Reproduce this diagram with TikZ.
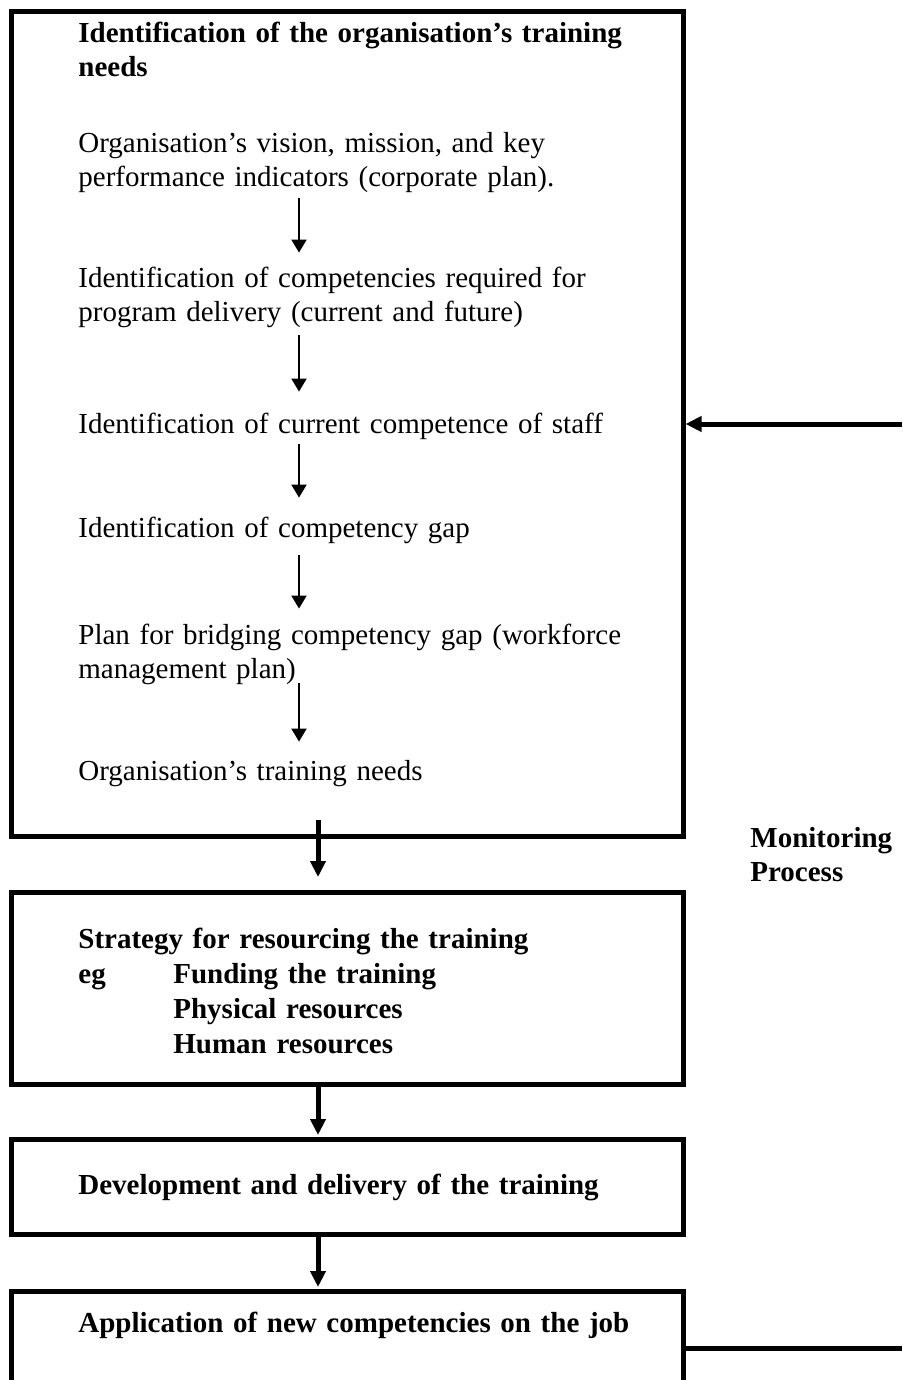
\documentclass[tikz,border=0pt]{standalone}
\usepackage{fontspec}
\setmainfont{Liberation Serif}
\usetikzlibrary{arrows.meta,calc}
\begin{document}
\begin{tikzpicture}[x=0.5pt,y=-0.5pt,
  box/.style={draw, line width=2.5pt, outer sep=0pt, inner sep=0pt, anchor=north west, minimum width=336pt},
  txt/.style={anchor=base west, inner sep=0pt, align=left, text width=320pt, font=\fontsize{14.5pt}{17pt}\selectfont},
  btxt/.style={anchor=base west, inner sep=0pt, align=left, text width=320pt, font=\fontsize{14.5pt}{17pt}\selectfont\bfseries},
  flow/.style={line width=1pt, -{Triangle[length=6.5pt,width=7.5pt]}},
  bigflow/.style={line width=2.5pt, -{Triangle[length=8pt,width=7.5pt]}},
]
\useasboundingbox[fill=white] (0,0) rectangle (902,1380);
\clip (0,0) rectangle (902,1380);

% boxes
\node[box, minimum height=412pt] (b1) at (11,12) {};
\node[box, minimum height=96pt] (b2) at (11,892) {};
\node[box, minimum height=47.5pt] (b3) at (11,1139) {};
\node[box, minimum height=70pt] (b4) at (11,1291) {};

% box 1 texts
\node[btxt] (h1) at (78,43) {Identification of the organisation’s training\\needs};
\node[txt] (t1) at (78,153) {\strut Organisation’s vision, mission, and key\\performance indicators (corporate plan).\strut};
\node[txt] (t2) at (78,287) {\strut Identification of competencies required for\\program delivery (current and future)\strut};
\node[txt] (t3) at (78,433) {\strut Identification of current competence of staff\strut};
\node[txt] (t4) at (78,537) {\strut Identification of competency gap\strut};
\node[txt] (t5) at (78,644) {\strut Plan for bridging competency gap (workforce\\management plan)\strut};
\node[txt] (t6) at (78,780) {\strut Organisation’s training needs\strut};

% box 2 texts
\node[btxt] (s0) at (78,948) {Strategy for resourcing the training};
\node[btxt, text width=40pt] (eg) at (78,983) {eg};
\node[btxt, text width=200pt, font=\fontsize{14.5pt}{17.5pt}\selectfont\bfseries] (s1) at (173,983) {Funding the training\\Physical resources\\Human resources};

% box 3 and 4 texts
\node[btxt] (dev) at (78,1194) {Development and delivery of the training};
\node[btxt] (app) at (78,1332) {Application of new competencies on the job};

% side label
\node[btxt, text width=75pt] (mon) at (750,847) {Monitoring\\Process};

% helper coordinates
\coordinate (ax) at (299,0);
\coordinate (mx) at (318,0);
\coordinate (r1) at (902,424);
\coordinate (r2) at (902,1348);

% inner flow arrows
\draw[flow, shorten >=5.1pt] (t1.south -| ax) -- (t2.north -| ax);
\draw[flow, shorten <=1.9pt, shorten >=8.6pt] (t2.south -| ax) -- (t3.north -| ax);
\draw[flow, shorten >=7.6pt] (t3.south -| ax) -- (t4.north -| ax);
\draw[flow, shorten <=3.9pt, shorten >=5.6pt] (t4.south -| ax) -- (t5.north -| ax);
\draw[flow, shorten <=-2.6pt, shorten >=7.1pt] (t5.south -| ax) -- (t6.north -| ax);

% box to box arrows
\draw[bigflow, shorten >=7.5pt] ($(b1.south -| mx)+(0,-16)$) -- (b2.north -| mx);
\draw[bigflow, shorten >=2pt] (b2.south -| mx) -- (b3.north -| mx);
\draw[bigflow, shorten >=2pt] (b3.south -| mx) -- (b4.north -| mx);

% monitoring lines
\draw[bigflow, shorten >=1.25pt] (r1) -- (b1.east |- r1);
\draw[line width=2.5pt] (b4.east |- r2) -- (r2);
\end{tikzpicture}
\end{document}
